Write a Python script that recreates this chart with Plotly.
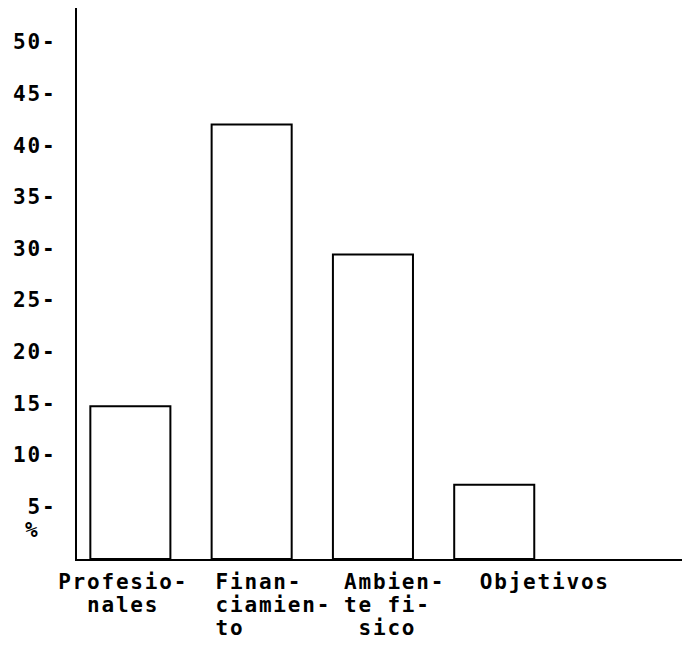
import plotly.graph_objects as go

# ---- data ----
categories = ["Profesionales", "Financiamiento", "Ambiente físico", "Objetivos"]
values = [14.8, 42.1, 29.5, 7.2]
category_label_lines = [
    ["Profesio-", "  nales"],
    ["Finan-", "ciamien-", "to"],
    ["Ambien-", "te fi-", " sico"],
    ["Objetivos"],
]
y_tick_values = [5, 10, 15, 20, 25, 30, 35, 40, 45, 50]
y_tick_labels = ["5-", "10-", "15-", "20-", "25-", "30-", "35-", "40-", "45-", "50-"]
unit_label = "%"

# ---- styling ----
FONT = "DejaVu Sans Mono"
NB = "\u00a0"
label_shift_chars = [-1, 3, 3, 7]  # horizontal nudge of each label block (half-cells)


def styled(s):
    return ('<span style="font-size:21px;letter-spacing:1.8px;font-weight:600">'
            + s.replace(" ", NB) + "</span>")


def block(lines, shift):
    w = max(len(l) for l in lines)
    out = []
    for l in lines:
        l = l.ljust(w)
        if shift > 0:
            l = " " * shift + l
        elif shift < 0:
            l = l + " " * (-shift)
        out.append(styled(l))
    return "<br>".join(out)


x_ticktext = [block(l, s) for l, s in zip(category_label_lines, label_shift_chars)]
y_ticktext = [styled(t) for t in y_tick_labels]

fig = go.Figure(
    go.Bar(
        x=categories,
        y=values,
        width=0.66,
        marker=dict(color="white", line=dict(color="black", width=2)),
        hoverinfo="skip",
    )
)

# the page body has an 8px default margin, so the figure is sized to fit
fig.update_layout(
    width=682,
    height=637,
    autosize=False,
    margin=dict(l=69, r=0, t=0, b=86),
    paper_bgcolor="white",
    plot_bgcolor="white",
    showlegend=False,
    font=dict(family=FONT, size=18, color="black"),
    xaxis=dict(
        type="category",
        range=[-0.44, 4.614],
        tickvals=categories,
        ticktext=x_ticktext,
        tickangle=0,
        automargin=False,
        showline=True,
        linecolor="black",
        linewidth=2,
        ticks="",
        showgrid=False,
        zeroline=False,
        ticklabelstandoff=6,
        tickfont=dict(family=FONT, size=18, color="black"),
    ),
    yaxis=dict(
        range=[0, 53.4],
        tickvals=y_tick_values,
        ticktext=y_ticktext,
        automargin=False,
        showline=True,
        linecolor="black",
        linewidth=2,
        ticks="",
        showgrid=False,
        zeroline=False,
        ticklabelstandoff=15,
        tickfont=dict(family=FONT, size=18, color="black"),
    ),
    annotations=[
        dict(
            text=styled(unit_label),
            xref="paper",
            yref="y",
            x=0,
            y=2.8,
            xanchor="left",
            yanchor="middle",
            xshift=-54,
            showarrow=False,
            font=dict(family=FONT, size=18, color="black"),
        )
    ],
)

fig.write_html("out.html")
